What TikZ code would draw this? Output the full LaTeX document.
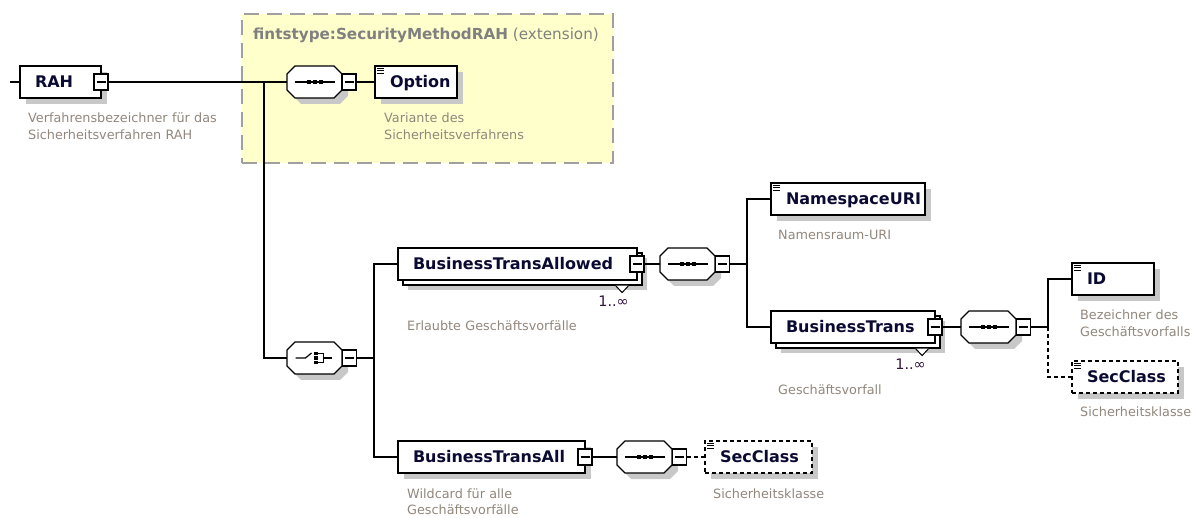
\documentclass[tikz,border=0pt]{standalone}
\usepackage{fontspec}
\setmainfont{DejaVu Sans}
\usetikzlibrary{shadows}

\definecolor{namecol}{RGB}{10,10,50}
\definecolor{desccol}{RGB}{145,135,125}
\definecolor{extfill}{RGB}{255,255,204}
\definecolor{extline}{RGB}{160,160,160}
\definecolor{titlecol}{RGB}{128,128,128}
\definecolor{shadecol}{RGB}{200,200,200}
\definecolor{multcol}{RGB}{50,20,60}

\tikzset{
  conn/.style={line width=1.2pt},
  optconn/.style={conn, dash pattern=on 4pt off 3pt},
  elem/.style={rectangle, draw, fill=white, line width=1.2pt, minimum height=32pt,
    text width=#1, inner xsep=15pt, inner ysep=0pt, text height=14pt, text depth=2pt,
    text=namecol, font=\fontsize{16}{18}\selectfont\bfseries},
  single/.style={drop shadow={shadow xshift=6pt, shadow yshift=-6pt, fill=shadecol, opacity=1}},
  multi/.style={drop shadow={shadow xshift=10pt, shadow yshift=-10pt, fill=shadecol, opacity=1},
    copy shadow={shadow xshift=5pt, shadow yshift=-5pt, fill=white, draw=black, line width=1.2pt}},
  optelem/.style={dash pattern=on 4pt off 3pt},
  comp/.style={rectangle, minimum width=55pt, minimum height=32pt, inner sep=0pt, outer sep=0pt},
  minus/.style={rectangle, draw, fill=white, line width=1.2pt, minimum width=14pt,
    minimum height=16pt, inner sep=0pt,
    path picture={\draw[line width=1.2pt, shift={(path picture bounding box.center)}] (-4.5,0) -- (4.5,0);}},
  ext/.style={rectangle, draw=extline, fill=extfill, line width=1.2pt,
    dash pattern=on 15pt off 8pt, minimum width=371pt, minimum height=149pt},
  title/.style={inner sep=0pt, text=titlecol, font=\fontsize{15.2}{18}\selectfont},
  desc/.style={anchor=base west, inner sep=0pt, text width=250pt, align=left, text=desccol,
    font=\fontsize{12.8}{16.5}\selectfont},
  mult/.style={anchor=base east, inner sep=0pt, text=multcol, font=\fontsize{14.5}{16}\selectfont},
  tri/.style={line width=1pt, fill=white}
}

% octagon of a compositor, with its shadow
\newcommand{\compbox}[1]{%
  \fill[shadecol] ([shift={(6pt,-6pt)}]#1.north west) ++(8pt,0pt) -- ++(39pt,0pt) -- ++(8pt,-8pt)
    -- ++(0pt,-16pt) -- ++(-8pt,-8pt) -- ++(-39pt,0pt) -- ++(-8pt,8pt) -- ++(0pt,16pt) -- cycle;
  \draw[line width=1.2pt, fill=white] (#1.north west) ++(8pt,0pt) -- ++(39pt,0pt) -- ++(8pt,-8pt)
    -- ++(0pt,-16pt) -- ++(-8pt,-8pt) -- ++(-39pt,0pt) -- ++(-8pt,8pt) -- ++(0pt,16pt) -- cycle;}
% sequence symbol
\newcommand{\seqsym}[1]{%
  \draw[line width=1.2pt] ([xshift=-20pt]#1.center) -- ([xshift=20pt]#1.center);
  \foreach \i in {-8pt,-2pt,4pt}
    \fill ([shift={(\i,2pt)}]#1.center) rectangle ++(4pt,-4pt);}
% choice symbol
\newcommand{\choicesym}[1]{%
  \draw[line width=1.2pt] ([xshift=-19pt]#1.center) -- ([xshift=-9pt]#1.center)
    -- ([shift={(-3pt,5pt)}]#1.center);
  \foreach \j in {2.8pt,-1.7pt,-6.2pt}
    \fill ([shift={(-0.5pt,\j)}]#1.center) rectangle ++(3.5pt,3.4pt);
  \draw[line width=1.2pt] ([shift={(3pt,4.5pt)}]#1.center) -- ++(6pt,0pt) -- ++(0pt,-9pt) -- ++(-6pt,0pt)
    ([xshift=9pt]#1.center) -- ++(8pt,0pt);}
% mark of a simple type
\newcommand{\simpleicon}[1]{%
  \foreach \k in {3pt,5.5pt,8pt}
    \draw[line width=0.8pt] ([shift={(3pt,-\k)}]#1.north west) -- ++(6.5pt,0pt);}

\begin{document}
\begin{tikzpicture}[x=1pt, y=-1pt]
  \useasboundingbox (0,0) rectangle (1197,518);

  % extension of the base type
  \node[ext] (ext) at (427.5,88.5) {};
  \node[title, anchor=base west] (exttitle) at (253,40) {\textbf{fintstype:SecurityMethodRAH} (extension)};

  % root element and its content
  \coordinate (start) at (10,82);
  \node[elem=51pt, single] (rah) at (60.5,82) {RAH};
  \node[minus] (rahm) at (101,82) {};
  \node[desc] (rahd) at (28,123) {Verfahrensbezeichner für das\\Sicherheitsverfahren RAH};

  \node[comp] (seq1) at (314.5,82) {};
  \compbox{seq1} \seqsym{seq1}
  \node[minus] (seq1m) at (349,82) {};
  \node[elem=52pt, single] (option) at (416,82) {Option};
  \simpleicon{option}
  \node[desc] (optiond) at (384,123) {Variante des\\Sicherheitsverfahrens};

  \node[comp] (choice) at (314.5,358) {};
  \compbox{choice} \choicesym{choice}
  \node[minus] (choicem) at (349.5,358) {};
  \coordinate (j1) at (264,82);
  \coordinate (j2) at (374,358);

  % allowed transactions
  \node[elem=209pt, multi] (bta) at (517.5,264) {BusinessTransAllowed};
  \node[minus] (btam) at (637,264) {};
  \draw[tri] ([shift={(-22pt,-5pt)}]bta.south east) -- ++(6.5pt,-7pt) -- ++(6.5pt,7pt);
  \node[mult] (btamult) at (629,307) {1..∞};
  \node[desc] (btad) at (407,331) {Erlaubte Geschäftsvorfälle};

  \node[comp] (seq2) at (687.5,264) {};
  \compbox{seq2} \seqsym{seq2}
  \node[minus] (seq2m) at (722.5,264) {};
  \coordinate (j3) at (747,264);

  \node[elem=124pt, single] (ns) at (848,199) {NamespaceURI};
  \simpleicon{ns}
  \node[desc] (nsd) at (778,240) {Namensraum-URI};

  \node[elem=134pt, multi] (bt) at (853,327) {BusinessTrans};
  \node[minus] (btm) at (935,327) {};
  \draw[tri] ([shift={(-20pt,-5pt)}]bt.south east) -- ++(6.5pt,-7pt) -- ++(6.5pt,7pt);
  \node[mult] (btmult) at (926,370) {1..∞};
  \node[desc] (btd) at (778,395) {Geschäftsvorfall};

  \node[comp] (seq3) at (988.5,327) {};
  \compbox{seq3} \seqsym{seq3}
  \node[minus] (seq3m) at (1023.5,327) {};
  \coordinate (j4) at (1048,327);

  \node[elem=52pt, single] (id) at (1113,279) {ID};
  \simpleicon{id}
  \node[desc] (idd) at (1080,320) {Bezeichner des\\Geschäftsvorfalls};
  \node[elem=76pt, single, optelem] (sec1) at (1125,377) {SecClass};
  \simpleicon{sec1}
  \node[desc] (sec1d) at (1080,417) {Sicherheitsklasse};

  % wildcard
  \node[elem=157pt, single] (btall) at (491.5,457) {BusinessTransAll};
  \node[minus] (btallm) at (585,457) {};
  \node[desc] (btalld) at (407,498) {Wildcard für alle\\Geschäftsvorfälle};

  \node[comp] (seq4) at (644.5,457) {};
  \compbox{seq4} \seqsym{seq4}
  \node[minus] (seq4m) at (679.5,457) {};
  \node[elem=77pt, single, optelem] (sec2) at (758.5,457) {SecClass};
  \simpleicon{sec2}
  \node[desc] (sec2d) at (713,498) {Sicherheitsklasse};

  % connectors
  \draw[conn] (start) -- (rah.west);
  \draw[conn] (rahm.east) -- (seq1.west);
  \draw[conn] (seq1m.east) -- (option.west);
  \draw[conn] (choice.west) -| (j1);
  \draw[conn] (choicem.east) -- (j2) |- (bta.west);
  \draw[conn] (j2) |- (btall.west);
  \draw[conn] (btam.east) -- (seq2.west);
  \draw[conn] (seq2m.east) -- (j3) |- (ns.west);
  \draw[conn] (j3) |- (bt.west);
  \draw[conn] (btm.east) -- (seq3.west);
  \draw[conn] (seq3m.east) -- (j4) |- (id.west);
  \draw[optconn] (j4) |- (sec1.west);
  \draw[conn] (btallm.east) -- (seq4.west);
  \draw[optconn] (seq4m.east) -- (sec2.west);
\end{tikzpicture}
\end{document}
